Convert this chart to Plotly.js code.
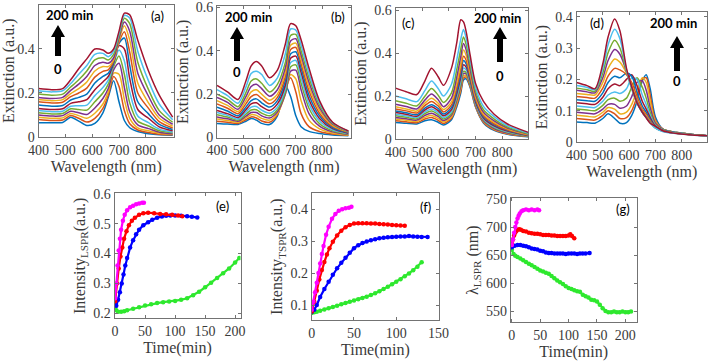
<!DOCTYPE html>
<html>
<head>
<meta charset="utf-8">
<script src="https://cdn.plot.ly/plotly-3.0.1.min.js"></script>
<style>
  html, body { margin: 0; padding: 0; background: #fff; }
  #chart { width: 708px; height: 362px; }
</style>
</head>
<body>
<div id="chart"></div>
<script>
// Extinction spectra, 0 -> 200 min (one row per recorded spectrum)
const wlA = [400, 450, 490, 520, 550, 580, 610, 640, 660, 680, 700, 720, 740, 770, 810, 850, 900];
const specA = [
    [.065,.065,.066,.090,.072,.052,.062,.110,.180,.255,.160,.075,.042,.025,.015,.010,.008],
    [.080,.075,.077,.098,.085,.068,.085,.130,.190,.275,.230,.120,.060,.032,.020,.013,.010],
    [.090,.085,.087,.107,.097,.085,.108,.150,.205,.290,.285,.170,.085,.042,.028,.017,.012],
    [.100,.095,.097,.117,.110,.102,.132,.175,.220,.305,.335,.225,.115,.055,.038,.022,.015],
    [.110,.105,.107,.128,.125,.122,.160,.200,.240,.320,.368,.285,.155,.072,.050,.028,.019],
    [.120,.115,.117,.140,.142,.145,.188,.225,.258,.330,.395,.345,.205,.095,.065,.036,.023],
    [.130,.125,.128,.153,.160,.170,.215,.250,.275,.335,.415,.400,.265,.125,.085,.046,.028],
    [.145,.140,.143,.168,.180,.195,.245,.275,.290,.340,.425,.450,.325,.160,.105,.057,.034],
    [.160,.155,.158,.183,.200,.222,.272,.298,.305,.345,.432,.478,.385,.200,.130,.070,.041],
    [.170,.165,.170,.197,.220,.250,.300,.320,.320,.350,.440,.505,.440,.245,.155,.085,.049],
    [.180,.175,.180,.212,.240,.275,.325,.340,.335,.360,.450,.522,.480,.290,.185,.100,.058],
    [.195,.190,.195,.227,.260,.300,.350,.360,.350,.375,.460,.540,.515,.340,.215,.120,.067],
    [.210,.205,.210,.243,.285,.325,.375,.380,.365,.390,.470,.553,.540,.390,.255,.150,.078],
    [.220,.215,.220,.260,.310,.355,.400,.395,.380,.400,.480,.563,.555,.440,.300,.190,.090]
];

const wlB = [400, 440, 480, 510, 530, 550, 570, 600, 630, 660, 680, 700, 720, 750, 790, 840, 900];
const specB = [
    [.065,.062,.060,.075,.087,.080,.065,.060,.100,.240,.190,.100,.050,.028,.018,.012,.008],
    [.075,.070,.065,.082,.095,.090,.076,.070,.105,.220,.275,.210,.110,.050,.028,.016,.010],
    [.085,.078,.070,.090,.105,.102,.088,.080,.110,.200,.290,.270,.170,.080,.040,.021,.012],
    [.095,.086,.075,.098,.115,.115,.100,.090,.118,.200,.305,.310,.220,.110,.052,.026,.014],
    [.105,.094,.080,.107,.127,.128,.112,.100,.128,.210,.325,.335,.250,.135,.064,.031,.016],
    [.115,.102,.085,.117,.140,.143,.126,.112,.140,.225,.345,.355,.275,.155,.076,.036,.018],
    [.125,.110,.092,.128,.155,.160,.142,.125,.155,.240,.365,.375,.300,.175,.088,.041,.020],
    [.140,.122,.100,.140,.170,.178,.160,.140,.170,.260,.385,.395,.320,.195,.100,.046,.022],
    [.155,.135,.110,.155,.188,.198,.180,.155,.185,.280,.405,.415,.340,.215,.112,.051,.024],
    [.170,.148,.120,.170,.210,.220,.200,.172,.200,.300,.425,.435,.360,.235,.125,.056,.026],
    [.185,.162,.130,.188,.235,.245,.225,.190,.220,.320,.445,.455,.380,.255,.138,.061,.027],
    [.200,.176,.142,.207,.260,.270,.250,.210,.245,.345,.470,.475,.400,.275,.150,.065,.028],
    [.220,.193,.158,.232,.295,.305,.290,.240,.275,.385,.500,.495,.425,.295,.160,.068,.029],
    [.240,.210,.175,.260,.330,.350,.330,.275,.310,.430,.525,.515,.450,.320,.170,.070,.030]
];

const wlC = [400, 440, 480, 510, 535, 560, 580, 610, 630, 645, 655, 665, 680, 700, 730, 770, 820, 900];
const specC = [
    [.077,.073,.070,.085,.090,.078,.065,.090,.150,.215,.275,.280,.240,.150,.075,.040,.022,.010],
    [.085,.080,.076,.093,.100,.087,.072,.097,.160,.225,.285,.288,.245,.153,.078,.043,.024,.011],
    [.093,.087,.082,.101,.110,.096,.079,.104,.170,.236,.295,.295,.250,.156,.081,.046,.026,.012],
    [.100,.094,.088,.110,.120,.105,.086,.111,.180,.247,.305,.303,.255,.160,.085,.049,.028,.013],
    [.108,.101,.094,.118,.130,.114,.093,.119,.190,.258,.315,.310,.260,.164,.089,.053,.031,.014],
    [.115,.108,.100,.126,.140,.123,.100,.128,.200,.272,.330,.322,.267,.168,.093,.057,.034,.015],
    [.123,.115,.106,.135,.150,.132,.108,.137,.212,.288,.345,.335,.274,.173,.098,.061,.037,.016],
    [.130,.122,.113,.144,.160,.142,.116,.147,.226,.305,.365,.350,.283,.180,.103,.066,.040,.017],
    [.140,.131,.121,.155,.175,.154,.126,.159,.242,.325,.385,.367,.293,.188,.109,.071,.043,.018],
    [.150,.140,.130,.167,.190,.167,.137,.173,.262,.352,.415,.390,.307,.198,.116,.077,.047,.020],
    [.162,.151,.140,.181,.210,.183,.150,.190,.290,.385,.445,.415,.325,.210,.125,.084,.051,.022],
    [.178,.166,.154,.199,.235,.204,.170,.215,.325,.420,.475,.440,.345,.225,.136,.093,.056,.024],
    [.200,.187,.174,.225,.270,.235,.200,.255,.370,.465,.510,.470,.370,.242,.152,.104,.062,.027],
    [.237,.220,.207,.270,.330,.290,.250,.330,.450,.555,.545,.500,.390,.260,.175,.115,.070,.030]
];

const wlD = [400, 440, 470, 500, 520, 545, 565, 590, 610, 630, 650, 665, 680, 700, 730, 780, 840, 900];
const specD = [
    [.064,.062,.060,.075,.090,.075,.060,.062,.085,.130,.195,.215,.170,.080,.040,.030,.024,.020],
    [.075,.072,.070,.085,.100,.090,.075,.078,.100,.145,.200,.205,.150,.070,.040,.030,.024,.020],
    [.085,.082,.080,.095,.110,.105,.090,.095,.120,.165,.205,.190,.130,.065,.040,.030,.024,.020],
    [.095,.092,.090,.105,.120,.120,.108,.115,.145,.190,.195,.165,.110,.060,.040,.030,.024,.020],
    [.105,.102,.100,.117,.135,.140,.130,.140,.175,.205,.175,.140,.095,.055,.039,.030,.024,.020],
    [.115,.112,.110,.130,.150,.160,.155,.170,.205,.200,.150,.120,.085,.052,.038,.030,.024,.020],
    [.125,.122,.120,.143,.170,.185,.180,.200,.215,.180,.130,.105,.078,.050,.037,.029,.023,.020],
    [.135,.132,.130,.157,.190,.210,.205,.220,.210,.160,.115,.095,.072,.048,.036,.029,.023,.020],
    [.145,.142,.140,.172,.210,.235,.230,.215,.190,.145,.105,.088,.068,.047,.035,.028,.023,.019],
    [.155,.152,.150,.190,.235,.265,.255,.220,.180,.135,.100,.083,.065,.046,.035,.028,.023,.019],
    [.165,.160,.157,.205,.260,.295,.280,.225,.175,.130,.097,.080,.063,.045,.034,.028,.023,.019],
    [.172,.167,.162,.220,.285,.325,.300,.225,.170,.125,.095,.078,.062,.045,.034,.028,.023,.019],
    [.180,.174,.167,.235,.310,.360,.330,.230,.170,.125,.094,.077,.061,.044,.033,.027,.022,.019],
    [.190,.180,.170,.250,.335,.393,.355,.235,.175,.125,.095,.077,.060,.050,.035,.027,.022,.020]
];

// (e) LSPR intensity vs time
const eMagT = [0, 2, 4, 6, 8, 10, 13, 16, 20, 25, 30, 35, 40, 45, 48];
const eMagY = [0.25, 0.30, 0.36, 0.41, 0.45, 0.48, 0.51, 0.53, 0.545, 0.555, 0.56, 0.565, 0.568, 0.57, 0.57];
const eRedT = [0, 3, 6, 9, 12, 15, 19, 23, 28, 33, 40, 47, 55, 65, 75, 85, 95, 105, 112];
const eRedY = [0.24, 0.30, 0.35, 0.39, 0.42, 0.45, 0.475, 0.495, 0.51, 0.52, 0.53, 0.535, 0.537, 0.535, 0.533, 0.532, 0.53, 0.528, 0.525];
const eBluT = [0, 2, 5, 8, 11, 14, 17, 20, 25, 30, 35, 40, 47, 55, 62, 70, 78, 85, 92, 100, 110, 120, 128, 137];
const eBluY = [0.23, 0.225, 0.245, 0.27, 0.30, 0.33, 0.36, 0.385, 0.42, 0.445, 0.465, 0.48, 0.495, 0.505, 0.513, 0.52, 0.524, 0.527, 0.528, 0.528, 0.527, 0.525, 0.523, 0.521];
const eGrnT = [0, 2, 5, 10, 15, 20, 30, 40, 50, 60, 70, 80, 90, 100, 110, 120, 130, 140, 150, 160, 170, 180, 190, 200, 207];
const eGrnY = [0.22, 0.21, 0.205, 0.205, 0.207, 0.21, 0.215, 0.22, 0.226, 0.23, 0.234, 0.237, 0.239, 0.241, 0.245, 0.25, 0.26, 0.272, 0.287, 0.302, 0.318, 0.334, 0.35, 0.37, 0.385];

// (f) TSPR intensity vs time
const fMagT = [0, 2, 4, 6, 8, 10, 12, 14, 17, 20, 24, 28, 32, 36, 40, 44, 47];
const fMagY = [0.085, 0.11, 0.14, 0.17, 0.20, 0.23, 0.26, 0.285, 0.32, 0.345, 0.37, 0.385, 0.395, 0.40, 0.403, 0.405, 0.408];
const fRedT = [0, 3, 6, 9, 12, 15, 18, 21, 25, 30, 35, 40, 45, 50, 55, 60, 65, 70, 75, 80, 85, 90, 95, 100, 105, 110];
const fRedY = [0.08, 0.11, 0.145, 0.18, 0.21, 0.235, 0.258, 0.278, 0.298, 0.318, 0.333, 0.344, 0.351, 0.355, 0.356, 0.356, 0.356, 0.355, 0.355, 0.354, 0.353, 0.352, 0.351, 0.35, 0.349, 0.348];
const fBluT = [0, 3, 6, 10, 15, 20, 25, 30, 35, 40, 45, 50, 55, 60, 65, 70, 75, 80, 85, 90, 95, 100, 105, 110, 115, 120, 125, 130, 137];
const fBluY = [0.078, 0.085, 0.10, 0.125, 0.15, 0.173, 0.195, 0.215, 0.232, 0.248, 0.264, 0.278, 0.287, 0.294, 0.299, 0.303, 0.306, 0.309, 0.311, 0.312, 0.313, 0.314, 0.315, 0.315, 0.316, 0.315, 0.314, 0.313, 0.313];
const fGrnT = [0, 3, 6, 10, 15, 20, 25, 30, 35, 40, 45, 50, 55, 60, 65, 70, 75, 80, 85, 90, 95, 100, 105, 110, 115, 120, 125, 130];
const fGrnY = [0.075, 0.077, 0.079, 0.082, 0.086, 0.09, 0.094, 0.098, 0.102, 0.106, 0.11, 0.114, 0.118, 0.122, 0.126, 0.131, 0.137, 0.143, 0.15, 0.157, 0.165, 0.173, 0.181, 0.19, 0.199, 0.209, 0.22, 0.234];

// (g) LSPR peak wavelength vs time
const gMagT = [0, 2, 4, 6, 8, 10, 12, 14, 17, 20, 25, 30, 35, 40, 45, 48];
const gMagY = [668, 678, 690, 700, 708, 715, 720, 724, 728, 730, 731, 730, 731, 730, 731, 730];
const gRedT = [0, 2, 4, 6, 8, 10, 13, 16, 20, 25, 30, 35, 40, 45, 50, 55, 60, 65, 70, 75, 80, 85, 90, 95, 100, 103, 106, 110];
const gRedY = [670, 678, 685, 690, 693, 695, 696, 695, 693, 692, 690, 689, 688, 688, 687, 686, 686, 686, 685, 685, 684, 684, 684, 684, 685, 687, 684, 680];
const gBluT = [0, 5, 10, 15, 20, 25, 30, 35, 40, 45, 50, 55, 60, 65, 70, 75, 80, 85, 90, 95, 100, 105, 110, 115, 120, 125, 130, 137];
const gBluY = [664, 667, 668, 668, 667, 666, 664, 662, 661, 660, 658, 657, 655, 654, 654, 653, 653, 653, 653, 652, 653, 653, 653, 652, 653, 653, 653, 654];
const gGrnT = [0, 3, 6, 10, 15, 20, 25, 30, 35, 40, 45, 50, 55, 60, 65, 70, 75, 80, 85, 90, 95, 100, 105, 110, 115, 120, 125, 130, 135, 140, 145, 150, 155, 160, 165, 170, 175, 180, 185, 190, 195, 200, 205, 210];
const gGrnY = [660, 652, 649, 647, 644, 641, 638, 635, 632, 629, 626, 623, 621, 619, 617, 613, 609, 605, 602, 599, 595, 592, 590, 588, 586, 585, 580, 577, 575, 571, 570, 568, 562, 556, 551, 549, 549, 550, 549, 549, 550, 549, 549, 550];

const wlTicks = [400, 500, 600, 700, 800];

// MATLAB default line colours
const lineColors = ['#0072BD', '#D95319', '#EDB120', '#7E2F8E', '#77AC30', '#4DBEEE', '#A2142F'];

const W = 708, H = 362;
const px = x => x / W;
const py = y => 1 - y / H;

const traces = [];

function addSpectra(wl, rows, n) {
    rows.forEach((row, i) => {
        traces.push({
            x: wl, y: row, xaxis: 'x' + n, yaxis: 'y' + n,
            type: 'scatter', mode: 'lines', hoverinfo: 'skip',
            line: { color: lineColors[i % lineColors.length], width: 1.5, shape: 'spline', smoothing: 0.8 }
        });
    });
}

function addKinetics(t, y, color, n) {
    traces.push({
        x: t, y: y, xaxis: 'x' + n, yaxis: 'y' + n,
        type: 'scatter', mode: 'lines+markers', hoverinfo: 'skip',
        line: { color: color, width: 2.2 },
        marker: { color: color, size: 4.5 }
    });
}

addSpectra(wlA, specA, '');
addSpectra(wlB, specB, 2);
addSpectra(wlC, specC, 3);
addSpectra(wlD, specD, 4);

addKinetics(eGrnT, eGrnY, '#2ee82e', 5);
addKinetics(eBluT, eBluY, '#0000ff', 5);
addKinetics(eRedT, eRedY, '#ff0000', 5);
addKinetics(eMagT, eMagY, '#ff00ff', 5);

addKinetics(fGrnT, fGrnY, '#2ee82e', 6);
addKinetics(fBluT, fBluY, '#0000ff', 6);
addKinetics(fRedT, fRedY, '#ff0000', 6);
addKinetics(fMagT, fMagY, '#ff00ff', 6);

addKinetics(gGrnT, gGrnY, '#2ee82e', 7);
addKinetics(gBluT, gBluY, '#0000ff', 7);
addKinetics(gRedT, gRedY, '#ff0000', 7);
addKinetics(gMagT, gMagY, '#ff00ff', 7);

const serif = '"Liberation Serif", "DejaVu Serif", serif';
const frame = '#737373';
const ink = '#3a3a3a';

function axis(extra) {
    return Object.assign({
        showline: true, linecolor: frame, linewidth: 1, mirror: 'ticks',
        ticks: 'inside', ticklen: 3, tickcolor: frame,
        showgrid: false, zeroline: false, fixedrange: true,
        tickfont: { family: serif, size: 14, color: ink }
    }, extra);
}

function xTitle(text) {
    return { text: text, font: { family: serif, size: 16, color: ink }, standoff: 1 };
}
function yTitle(text) {
    return { text: text, font: { family: serif, size: 16, color: ink }, standoff: 3 };
}

function wlAxis(l, r, range, anchor) {
    return axis({
        domain: [px(l), px(r)], range: range, anchor: anchor,
        tickvals: wlTicks, title: xTitle('Wavelength (nm)')
    });
}
function extAxis(t, b, range, anchor, vals, labels) {
    return axis({
        domain: [py(b), py(t)], range: range, anchor: anchor,
        tickvals: vals, ticktext: labels, title: yTitle('Extinction (a.u.)')
    });
}

const layout = {
    width: W, height: H,
    margin: { l: 0, r: 0, t: 0, b: 0 },
    paper_bgcolor: '#ffffff', plot_bgcolor: '#ffffff',
    font: { family: serif, color: ink },
    showlegend: false,

    xaxis: wlAxis(38.5, 174, [400, 905], 'y'),
    yaxis: extAxis(4.5, 137, [0, 0.602], 'x', [0, 0.2, 0.4, 0.6], ['0', '0.2', '0.4', '0.6']),
    xaxis2: wlAxis(217, 351, [400, 910], 'y2'),
    yaxis2: extAxis(6, 137.5, [0, 0.606], 'x2', [0, 0.2, 0.4, 0.6], ['0', '0.2', '0.4', '0.6']),
    xaxis3: wlAxis(395.5, 528, [400, 897], 'y3'),
    yaxis3: extAxis(8, 139, [0, 0.61], 'x3', [0, 0.2, 0.4, 0.6], ['0', '0.2', '0.4', '0.6']),
    xaxis4: wlAxis(576.5, 707, [400, 896], 'y4'),
    yaxis4: extAxis(12, 142, [0, 0.415], 'x4', [0, 0.1, 0.2, 0.3, 0.4], ['0', '0.1', '0.2', '0.3', '0.4']),

    xaxis5: axis({ domain: [px(114.5), px(240.5)], range: [-1, 209], anchor: 'y5',
        tickvals: [0, 50, 100, 150, 200], title: xTitle('Time(min)') }),
    yaxis5: axis({ domain: [py(318.3), py(193.3)], range: [0.183, 0.602], anchor: 'x5',
        tickvals: [0.2, 0.3, 0.4, 0.5, 0.6], ticktext: ['0.2', '0.3', '0.4', '0.5', '0.6'],
        title: yTitle('Intensity<sub>LSPR</sub>(a.u.)') }),
    xaxis6: axis({ domain: [px(311.7), px(439)], range: [0, 150.5], anchor: 'y6',
        tickvals: [0, 50, 100, 150], title: xTitle('Time(min)') }),
    yaxis6: axis({ domain: [py(320), py(193.3)], range: [0.053, 0.45], anchor: 'x6',
        tickvals: [0.1, 0.2, 0.3, 0.4], ticktext: ['0.1', '0.2', '0.3', '0.4'],
        title: yTitle('Intensity<sub>TSPR</sub>(a.u.)') }),
    xaxis7: axis({ domain: [px(510.7), px(636.7)], range: [-2, 220], anchor: 'y7',
        tickvals: [0, 50, 100, 150, 200], title: xTitle('Time(min)') }),
    yaxis7: axis({ domain: [py(322.3), py(198.3)], range: [531, 751], anchor: 'x7',
        tickvals: [550, 600, 650, 700, 750],
        title: yTitle('λ<sub>LSPR</sub> (nm)') }),

    annotations: [],
    shapes: []
};

const sans = 'Lato, "Open Sans", sans-serif';

// panel letters
[['(a)', 157, 16], ['(b)', 338, 17], ['(c)', 408, 23], ['(d)', 597, 23],
 ['(e)', 222, 206], ['(f)', 425, 207], ['(g)', 623, 209]].forEach(([txt, x, y]) => {
    layout.annotations.push({
        text: txt, xref: 'paper', yref: 'paper', x: px(x), y: py(y),
        xanchor: 'center', yanchor: 'middle', showarrow: false,
        font: { family: sans, size: 13, color: '#000' }
    });
});

// thick block arrow (shaft + head) in paper coordinates
function arrowPath(x, tip, base) {
    const sw = 3, hw = 7, hl = 12;
    const pts = [[x - sw, base], [x - sw, tip + hl], [x - hw, tip + hl], [x, tip],
                 [x + hw, tip + hl], [x + sw, tip + hl], [x + sw, base]];
    return 'M' + pts.map(p => px(p[0]).toFixed(5) + ',' + py(p[1]).toFixed(5)).join('L') + 'Z';
}

// "200 min" / arrow / "0" markers in the spectra panels
[[69, 15, 58, 25, 56, 69], [248, 17, 237, 27, 61, 72],
 [497, 18, 500, 27, 62, 76], [673, 23, 677, 36, 71, 81]].forEach(([tx, ty, ax, tip, base, zy]) => {
    layout.annotations.push({
        text: '<b>200 min</b>', xref: 'paper', yref: 'paper', x: px(tx), y: py(ty),
        xanchor: 'center', yanchor: 'middle', showarrow: false,
        font: { family: sans, size: 13, color: '#000' }
    });
    layout.annotations.push({
        text: '<b>0</b>', xref: 'paper', yref: 'paper', x: px(ax), y: py(zy),
        xanchor: 'center', yanchor: 'middle', showarrow: false,
        font: { family: sans, size: 13, color: '#000' }
    });
    layout.shapes.push({
        type: 'path', xref: 'paper', yref: 'paper', path: arrowPath(ax, tip, base),
        fillcolor: '#000', line: { width: 0 }
    });
});

Plotly.newPlot('chart', traces, layout, { staticPlot: true, displayModeBar: false });
</script>
</body>
</html>
